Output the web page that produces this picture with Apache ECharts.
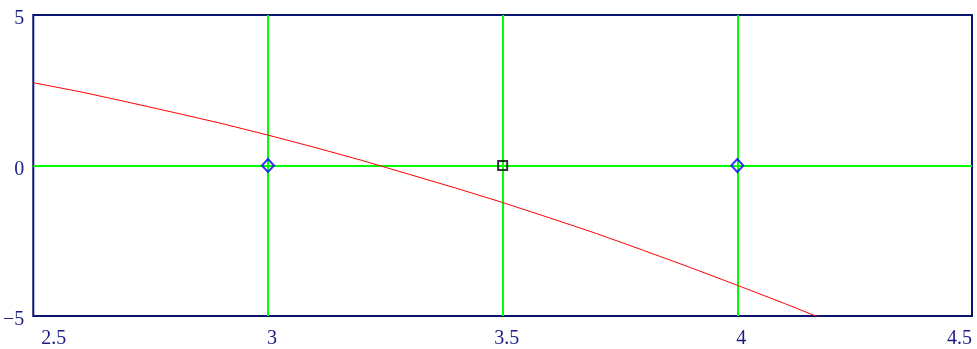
<!DOCTYPE html>
<html>
<head>
<meta charset="utf-8">
<script src="https://cdn.jsdelivr.net/npm/echarts@6/dist/echarts.min.js"></script>
<style>
  html, body { margin: 0; padding: 0; background: #ffffff; }
  #chart { width: 977px; height: 349px; }
</style>
</head>
<body>
<div id="chart"></div>
<script>
// Sampled curve f(x)
const curveX = [2.5, 2.6, 2.7, 2.8, 2.9, 3.0, 3.1, 3.2, 3.3, 3.4, 3.5, 3.6, 3.7, 3.8, 3.9, 4.0, 4.1, 4.18];
const curveY = [2.75, 2.45, 2.11, 1.76, 1.40, 1.01, 0.60, 0.17, -0.29, -0.75, -1.23, -1.74, -2.26, -2.82, -3.39, -3.98, -4.58, -5.08];

// Marked points on the zero line
const diamondPoints = [[3, 0], [4, 0]];
const squarePoints = [[3.5, 0]];

// Axis ranges and ticks
const xTicks = [2.5, 3, 3.5, 4, 4.5];
const yTicks = [-5, 0, 5];

const navy = '#0b1470';
const labelColor = '#1c1c80';
const gridGreen = '#00ff00';

const chart = echarts.init(document.getElementById('chart'), null, { renderer: 'canvas' });

const serif = 'Liberation Serif';
const labelSize = 20;

chart.setOption({
  animation: false,
  backgroundColor: '#ffffff',
  grid: {
    left: 32, right: 5, top: 15, bottom: 31,
    show: true, borderColor: navy, borderWidth: 2, backgroundColor: 'transparent'
  },
  xAxis: {
    type: 'value',
    min: xTicks[0], max: xTicks[xTicks.length - 1], interval: 0.5,
    axisLine: { show: false },
    axisTick: { show: false },
    splitLine: { show: true, showMinLine: false, showMaxLine: false, lineStyle: { color: gridGreen, width: 2 } },
    axisLabel: {
      fontFamily: serif, fontSize: labelSize, color: labelColor,
      margin: 13,
      padding: [0, 0, 0, 8],
      alignMinLabel: 'left',
      alignMaxLabel: 'right',
      formatter: v => String(v)
    }
  },
  yAxis: {
    type: 'value',
    min: yTicks[0], max: yTicks[yTicks.length - 1], interval: 5,
    axisLine: { show: false },
    axisTick: { show: false },
    splitLine: { show: true, showMinLine: false, showMaxLine: false, lineStyle: { color: gridGreen, width: 2 } },
    axisLabel: {
      fontFamily: serif, fontSize: labelSize, color: labelColor,
      margin: 9,
      formatter: v => '{v|' + (v < 0 ? '\u2212' + Math.abs(v) : String(v)) + '}',
      rich: {
        v: { fontFamily: serif, fontSize: labelSize, color: labelColor, lineHeight: 28, verticalAlign: 'bottom' }
      }
    }
  },
  series: [
    {
      type: 'line',
      data: curveX.map((x, i) => [x, curveY[i]]),
      showSymbol: false,
      smooth: false,
      clip: true,
      lineStyle: { color: '#ff0000', width: 1 },
      z: 3
    },
    {
      type: 'scatter',
      data: diamondPoints,
      symbol: 'diamond',
      symbolSize: [12, 13],
      itemStyle: { color: 'transparent', borderColor: '#0000ff', borderWidth: 2 },
      z: 4
    },
    {
      type: 'scatter',
      data: squarePoints,
      symbol: 'rect',
      symbolSize: 9,
      itemStyle: { color: 'transparent', borderColor: '#000000', borderWidth: 2 },
      z: 4
    }
  ]
});
</script>
</body>
</html>
